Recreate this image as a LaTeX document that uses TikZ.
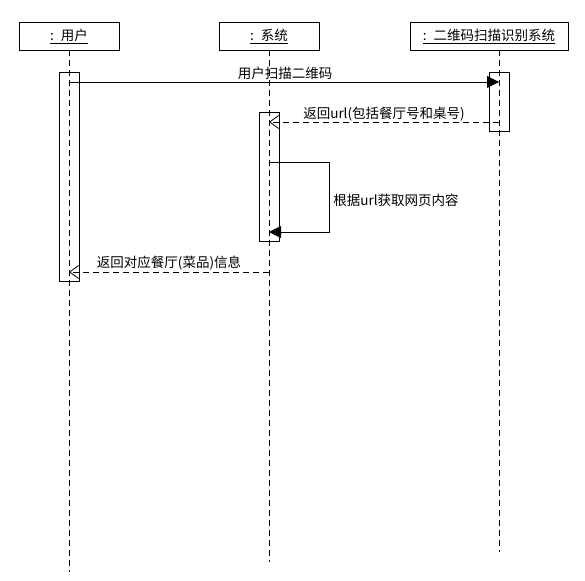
\documentclass[tikz,border=0pt]{standalone}
\usepackage{fontspec}
\setmainfont{Noto Sans CJK SC}
\usetikzlibrary{arrows.meta}
\newcommand{\colonlabel}[1]{\underline{:\hspace{7pt}#1}}
\begin{document}
\begin{tikzpicture}[x=1pt,y=-1pt,line width=0.8pt,
  font=\fontsize{13.5}{15}\selectfont,
  head/.style={draw,minimum height=28pt,inner sep=0pt,anchor=north},
  life/.style={dash pattern=on 6pt off 4pt},
  act/.style={draw,minimum width=20pt,inner sep=0pt,anchor=north},
  sync/.style={-{Triangle[length=12pt,width=12pt]}},
  reply/.style={dash pattern=on 6pt off 4pt,-{Straight Barb[length=9pt,width=13pt]}},
  lbl/.style={inner sep=0pt}]
\useasboundingbox (0,0) rectangle (585,580);
% participants
\node[head,minimum width=100pt] (u) at (69,22) {\colonlabel{用户}};
\node[head,minimum width=100pt] (s) at (269,22) {\colonlabel{系统}};
\node[head,minimum width=158pt] (q) at (489,22) {\colonlabel{二维码扫描识别系统}};
% lifelines
\coordinate (ub) at (69,572);
\coordinate (sb) at (269,562);
\coordinate (qb) at (499,552);
\draw[life] (69,50) -- (ub);
\draw[life] (269,50) -- (sb);
\draw[life] (499,50) -- (qb);
% activations
\node[act,minimum height=209pt] (ua) at (69,72) {};
\node[act,minimum height=129pt] (sa) at (269,112) {};
\node[act,minimum height=59pt] (qa) at (499,72) {};
% message points
\coordinate (m1a) at (69,82);
\coordinate (m1b) at (499,82);
\coordinate (m2a) at (499,122);
\coordinate (m2b) at (269,122);
\coordinate (m3a) at (269,162);
\coordinate (m3b) at (269,232);
\coordinate (m4a) at (269,272);
\coordinate (m4b) at (69,272);
% messages
\draw[sync] (m1a) -- (m1b);
\node[lbl] (l1) at (285,73) {用户扫描二维码};
\draw[reply] (m2a) -- (m2b);
\node[lbl] (l2) at (384,114) {返回url(包括餐厅号和桌号)};
\draw[sync] (m3a) -- ++(60,0) |- (m3b);
\node[lbl,anchor=west] (l3) at (333,200) {根据url获取网页内容};
\draw[reply] (m4a) -- (m4b);
\node[lbl] (l4) at (169,263) {返回对应餐厅(菜品)信息};
\end{tikzpicture}
\end{document}
